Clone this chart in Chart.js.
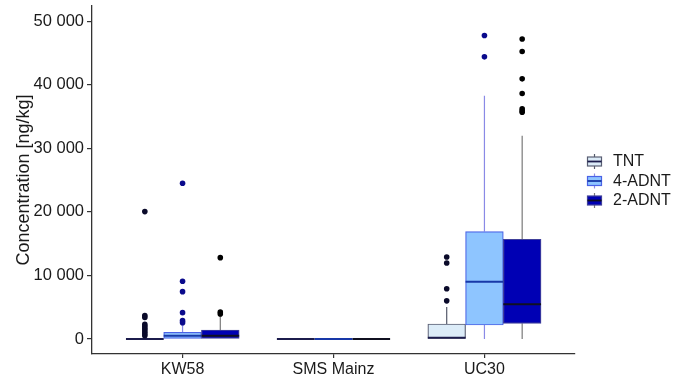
<!DOCTYPE html>
<html><head><meta charset="utf-8">
<script src="https://cdn.jsdelivr.net/npm/chart.js@4.4.1/dist/chart.umd.min.js"></script>
<style>html,body{margin:0;padding:0;background:#fff;}canvas{display:block;}</style>
</head><body>
<canvas id="c" width="688" height="380"></canvas>
<script>
// ---- data ----
const categories = ['KW58', 'SMS Mainz', 'UC30'];
const seriesNames = ['TNT', '4-ADNT', '2-ADNT'];
const yTickValues = [0, 10000, 20000, 30000, 40000, 50000];

const tntQ1 = [0, 0, 0];
const tntMedian = [0, 0, 200];
const tntQ3 = [0, 0, 2360];
const tntWhiskerLow = [0, 0, 0];
const tntWhiskerHigh = [0, 0, 5040];
const tntOutliers = [[20050, 3700, 3400, 2300, 2000, 1700, 1400, 1100, 800, 500], [], [12900, 11950, 7900, 6000]];

const adnt4Q1 = [0, 0, 2200];
const adnt4Median = [520, 0, 9020];
const adnt4Q3 = [1050, 0, 16900];
const adnt4WhiskerLow = [0, 0, 0];
const adnt4WhiskerHigh = [2200, 0, 38270];
const adnt4Outliers = [[24520, 9090, 7450, 4150, 2890, 2570], [], [47760, 44400]];

const adnt2Q1 = [0, 0, 2470];
const adnt2Median = [520, 0, 5460];
const adnt2Q3 = [1420, 0, 15700];
const adnt2WhiskerLow = [0, 0, 0];
const adnt2WhiskerHigh = [3800, 0, 31970];
const adnt2Outliers = [[12800, 4250, 3950], [], [47200, 45250, 40940, 38630, 36220, 35900, 35700]];

// ---- styles ----
const styles = [
  {fill: '#dcecf8', border: '#5a5f73', median: '#1c1c4c', whisker: '#555a6a', point: '#0a0a2a'},
  {fill: '#8ec5ff', border: '#4a62e6', median: '#1838a8', whisker: '#8a8ae6', point: '#0a0a8c'},
  {fill: '#0000b4', border: '#40409a', median: '#101020', whisker: '#7a7a7a', point: '#000000'}
];

const series = [
  {q1: tntQ1, med: tntMedian, q3: tntQ3, lo: tntWhiskerLow, hi: tntWhiskerHigh, out: tntOutliers},
  {q1: adnt4Q1, med: adnt4Median, q3: adnt4Q3, lo: adnt4WhiskerLow, hi: adnt4WhiskerHigh, out: adnt4Outliers},
  {q1: adnt2Q1, med: adnt2Median, q3: adnt2Q3, lo: adnt2WhiskerLow, hi: adnt2WhiskerHigh, out: adnt2Outliers}
];

const DODGE = 0.25, HALF = 0.125;
const xPos = (ci, si) => ci + 1 + (si - 1) * DODGE;

// boxes: one floating-bar dataset
const boxData = [], boxFill = [], boxBorder = [];
categories.forEach((c, ci) => {
  series.forEach((s, si) => {
    boxData.push({x: xPos(ci, si), y: [s.q1[ci], s.q3[ci]]});
    boxFill.push(styles[si].fill);
    boxBorder.push(styles[si].border);
  });
});

const datasets = [{
  type: 'bar', label: 'boxes', data: boxData,
  backgroundColor: boxFill, borderColor: boxBorder, borderWidth: 1.2, borderSkipped: false,
  barPercentage: 1, categoryPercentage: 1, order: 3
}];

series.forEach((s, si) => {
  const wh = [], md = [], pts = [];
  categories.forEach((c, ci) => {
    const x = xPos(ci, si);
    wh.push({x, y: s.q3[ci]}, {x, y: s.hi[ci]}, {x, y: null}, {x, y: s.q1[ci]}, {x, y: s.lo[ci]}, {x, y: null});
    md.push({x: x - HALF, y: s.med[ci]}, {x: x + HALF, y: s.med[ci]}, {x, y: null});
    s.out[ci].forEach(v => pts.push({x, y: v}));
  });
  datasets.push({type: 'line', label: seriesNames[si] + ' whisker', data: wh, borderColor: styles[si].whisker,
    borderWidth: 1.2, pointRadius: 0, spanGaps: false, tension: 0, fill: false, order: 4});
  datasets.push({type: 'line', label: seriesNames[si] + ' median', data: md, borderColor: styles[si].median,
    borderWidth: 2, pointRadius: 0, spanGaps: false, tension: 0, fill: false, order: 2});
  datasets.push({type: 'scatter', label: seriesNames[si], data: pts, backgroundColor: styles[si].point,
    borderWidth: 0, pointRadius: 2.8, order: 1});
});

const fmt = v => String(v).replace(/\B(?=(\d{3})+(?!\d))/g, ' ');
const FONT = 'Liberation Sans, Arial, sans-serif';
const TXT = '#1a1a1a';

const extras = {
  id: 'extras',
  afterDraw(chart) {
    const ctx = chart.ctx;
    const area = chart.chartArea;
    ctx.save();
    // y title
    ctx.fillStyle = TXT;
    ctx.font = '18px ' + FONT;
    ctx.textAlign = 'center';
    ctx.textBaseline = 'middle';
    ctx.translate(24, (area.top + area.bottom) / 2);
    ctx.rotate(-Math.PI / 2);
    ctx.fillText('Concentration [ng/kg]', 0, 0);
    ctx.restore();
    // legend
    ctx.save();
    seriesNames.forEach((name, i) => {
      const cy = 161.5 + i * 19.5;
      const x0 = 587.5, w = 14, cx = x0 + w / 2;
      const st = styles[i];
      ctx.strokeStyle = st.whisker; ctx.lineWidth = 1.2;
      ctx.beginPath(); ctx.moveTo(cx, cy - 7.5); ctx.lineTo(cx, cy + 7.5); ctx.stroke();
      ctx.fillStyle = st.fill; ctx.fillRect(x0, cy - 4.5, w, 9);
      ctx.strokeStyle = st.border; ctx.strokeRect(x0, cy - 4.5, w, 9);
      ctx.strokeStyle = st.median; ctx.lineWidth = 1.8;
      ctx.beginPath(); ctx.moveTo(x0, cy); ctx.lineTo(x0 + w, cy); ctx.stroke();
      ctx.fillStyle = TXT; ctx.font = '16px ' + FONT;
      ctx.textAlign = 'left'; ctx.textBaseline = 'middle';
      ctx.fillText(name, 613, cy + 0.5);
    });
    ctx.restore();
  }
};

new Chart(document.getElementById('c'), {
  type: 'bar',
  data: {datasets},
  plugins: [extras],
  options: {
    responsive: false, animation: false, devicePixelRatio: 1,
    layout: {padding: {top: 6, right: 113, left: 0, bottom: 0}},
    plugins: {legend: {display: false}, tooltip: {enabled: false}},
    scales: {
      x: {
        type: 'linear', min: 0.4, max: 3.6, offset: false,
        afterBuildTicks: s => { s.ticks = categories.map((c, i) => ({value: i + 1})); },
        afterFit: s => { s.height = 26; s.paddingLeft = 0; s.paddingRight = 0; },
        ticks: {callback: v => categories[Math.round(v) - 1] || '', font: {family: FONT, size: 16}, color: TXT,
          padding: 2, maxRotation: 0, autoSkip: false},
        grid: {offset: false, drawOnChartArea: false, drawTicks: true, tickLength: 4, color: '#333', lineWidth: 1.2},
        border: {display: true, color: '#333', width: 1.3}
      },
      y: {
        min: -2360, max: 52400,
        afterBuildTicks: s => { s.ticks = yTickValues.map(v => ({value: v})); },
        afterFit: s => { s.width = 92; s.paddingTop = 0; s.paddingBottom = 0; },
        ticks: {callback: v => fmt(v), font: {family: FONT, size: 16.5}, color: TXT, padding: 3},
        grid: {offset: false, drawOnChartArea: false, drawTicks: true, tickLength: 5, color: '#333', lineWidth: 1.2},
        border: {display: true, color: '#333', width: 1.3}
      }
    }
  }
});
</script>
</body></html>
